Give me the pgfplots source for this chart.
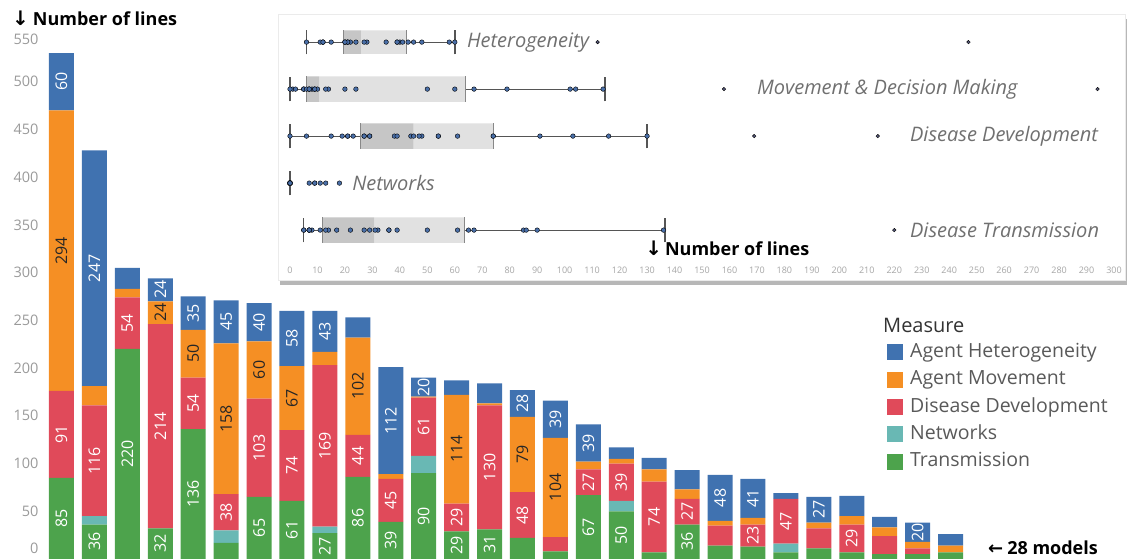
\documentclass[border=0pt]{standalone}
\usepackage{pgfplots}
\pgfplotsset{compat=1.18}
\usepackage{pgfplotstable}
\usepackage{fontspec}
\setmainfont{Open Sans}
\newfontfamily\dejavu{DejaVu Sans}
\usetikzlibrary{shadows}

\definecolor{cHet}{HTML}{4072B0}
\definecolor{cMov}{HTML}{F58F24}
\definecolor{cDis}{HTML}{E04A5A}
\definecolor{cNet}{HTML}{69B8B4}
\definecolor{cTra}{HTML}{4DA34C}
\definecolor{tickgray}{HTML}{9A9A9A}
\definecolor{legtxt}{HTML}{595959}
\definecolor{labgray}{HTML}{707070}
\definecolor{dotblue}{HTML}{4A6FA8}
\definecolor{outdot}{HTML}{55587A}
\definecolor{whisk}{HTML}{555555}
\definecolor{boxdark}{HTML}{B8B8B8}
\definecolor{boxlight}{HTML}{DADADA}

% idx: model; tra/net/dis/mov/het: number of lines per measure; *l: printed label
\pgfplotstableread{
idx tra tl  net nl dis dl  mov ml  het hl
0   85  85  0   {} 91  91  294 294 60  60
1   36  36  9   {} 116 116 20  {}  247 247
2   220 220 0   {} 54  54  9   {}  22  {}
3   32  32  0   {} 214 214 24  24  24  24
4   136 136 0   {} 54  54  50  50  35  35
5   17  {}  13  {} 38  38  158 158 45  45
6   65  65  0   {} 103 103 60  60  40  40
7   61  61  0   {} 74  74  67  67  58  58
8   27  27  7   {} 169 169 14  {}  43  43
9   86  86  0   {} 44  44  102 102 21  {}
10  39  39  0   {} 45  45  5   {}  112 112
11  90  90  18  {} 61  61  1   {}  20  20
12  29  29  0   {} 29  29  114 114 15  {}
13  31  31  0   {} 130 130 2   {}  21  {}
14  22  {}  0   {} 48  48  79  79  28  28
15  8   {}  0   {} 15  {}  104 104 39  39
16  67  67  0   {} 27  27  8   {}  39  39
17  50  50  11  {} 39  39  5   {}  12  {}
18  7   {}  0   {} 74  74  13  {}  12  {}
19  36  36  0   {} 27  27  10  {}  20  {}
20  14  {}  0   {} 21  {}  5   {}  48  48
21  13  {}  0   {} 23  23  7   {}  41  41
22  7   {}  9   {} 47  47  0   {}  6   {}
23  11  {}  0   {} 21  {}  6   {}  27  27
24  7   {}  0   {} 29  29  9   {}  21  {}
25  5   {}  0   {} 19  {}  9   {}  11  {}
26  5   {}  0   {} 6   {}  7   {}  20  20
27  7   {}  0   {} 0   {}  7   {}  12  {}
}\models

\begin{document}
\begin{tikzpicture}
\useasboundingbox (0pt,0pt) rectangle (1133pt,559pt);

\pgfplotsset{mainframe/.style={
  at={(45pt,0pt)}, anchor=south west,
  scale only axis, width=922pt, height=525pt,
  xmin=-0.5, xmax=27.5, ymin=0, ymax=550,
  enlargelimits=false, clip=false}}

% ---------------- main stacked bar chart ----------------
\begin{axis}[
  mainframe,
  ybar stacked, bar width=25pt,
  axis line style={draw=none},
  major tick length=0pt,
  xtick=\empty,
  ytick={50,100,...,500},
  /pgf/number format/assume math mode=true,
  yticklabel style={font=\fontsize{14.5}{14.5}\selectfont, text=tickgray, xshift=-3pt},
  reverse legend,
  legend image code/.code={\fill[#1] (0pt,-8pt) rectangle (16pt,8pt);},
  legend cell align=left,
  legend style={at={(0.9132,0.411)}, anchor=north west, draw=none, fill=none, inner sep=0pt,
     font=\fontsize{19.5}{19.5}\selectfont, text=legtxt, row sep=9.3pt,
     nodes={inner sep=0pt, text height=14pt, text depth=4pt},
     /tikz/every odd column/.append style={column sep=7pt}},
]
\addplot[fill=cTra, draw=none] table[x=idx, y=tra] {\models};
\addlegendentry{Transmission}
\addplot[fill=cNet, draw=none] table[x=idx, y=net] {\models};
\addlegendentry{Networks}
\addplot[fill=cDis, draw=none] table[x=idx, y=dis] {\models};
\addlegendentry{Disease Development}
\addplot[fill=cMov, draw=none] table[x=idx, y=mov] {\models};
\addlegendentry{Agent Movement}
\addplot[fill=cHet, draw=none] table[x=idx, y=het] {\models};
\addlegendentry{Agent Heterogeneity}

\node[anchor=east, font=\fontsize{14.5}{14.5}\selectfont, text=tickgray, xshift=-3pt, yshift=11pt]
  at (axis cs:-0.5,0) {0};
\node[anchor=east, font=\fontsize{14.5}{14.5}\selectfont, text=tickgray, xshift=-3pt, yshift=-5pt]
  at (axis cs:-0.5,550) {550};
\end{axis}

% ---------------- segment labels (centred in each segment) ----------------
\begin{axis}[
  mainframe, hide axis,
  nodes near coords,
  point meta=explicit symbolic,
  every node near coord/.style={rotate=90, anchor=center, inner sep=0pt,
     font=\fontsize{16}{16}\selectfont},
]
\addplot[draw=none, mark=none, every node near coord/.append style={text=white}]
  table[x=idx, y expr=\thisrow{tra}/2, meta=tl] {\models};
\addplot[draw=none, mark=none, every node near coord/.append style={text=white}]
  table[x=idx, y expr=\thisrow{tra}+\thisrow{net}+\thisrow{dis}/2, meta=dl] {\models};
\addplot[draw=none, mark=none, every node near coord/.append style={text=black!85}]
  table[x=idx, y expr=\thisrow{tra}+\thisrow{net}+\thisrow{dis}+\thisrow{mov}/2, meta=ml] {\models};
\addplot[draw=none, mark=none, every node near coord/.append style={text=white}]
  table[x=idx, y expr=\thisrow{tra}+\thisrow{net}+\thisrow{dis}+\thisrow{mov}+\thisrow{het}/2, meta=hl] {\models};
\end{axis}

\node[anchor=west, font=\fontsize{20}{20}\selectfont, text=black!80, inner sep=0pt] at (883pt,234pt) {Measure};
\node[anchor=west, font=\bfseries\fontsize{18}{18}\selectfont, inner sep=0pt] at (12pt,541pt)
  {{\dejavu\bfseries\fontsize{20}{20}\selectfont ↓}\hspace{4pt}Number of lines};
\node[anchor=west, font=\bfseries\fontsize{18}{18}\selectfont, inner sep=0pt] at (988pt,11pt)
  {{\dejavu\bfseries\fontsize{18}{18}\selectfont ←}\hspace{4pt}28 models};

% ---------------- inset box plot panel ----------------
\fill[white, draw=black!8, drop shadow={shadow xshift=2pt, shadow yshift=-5pt, opacity=0.4, fill=black!70}]
  (278pt,279pt) rectangle (1125pt,545pt);

\begin{axis}[
  at={(290pt,296pt)}, anchor=south west,
  scale only axis, width=824pt, height=244.4pt,
  xmin=0, xmax=300, ymin=0.3, ymax=5.5,
  enlargelimits=false, clip=false,
  axis line style={draw=none},
  major tick length=0pt,
  ytick=\empty,
  xtick={0,10,...,300},
  /pgf/number format/assume math mode=true,
  xticklabel style={font=\fontsize{9}{9}\selectfont, text=black!35},
]
% whiskers
\addplot[whisk, line width=0.8pt] coordinates {(6,5) (19.3,5)};
\addplot[whisk, line width=0.8pt] coordinates {(42.2,5) (60,5)};
\addplot[whisk, line width=0.8pt] coordinates {(0,4) (6,4)};
\addplot[whisk, line width=0.8pt] coordinates {(63.7,4) (114.7,4)};
\addplot[whisk, line width=0.8pt] coordinates {(0,3) (25.5,3)};
\addplot[whisk, line width=0.8pt] coordinates {(74,3) (130,3)};
\addplot[whisk, line width=0.8pt] coordinates {(5,1) (11.7,1)};
\addplot[whisk, line width=0.8pt] coordinates {(63.4,1) (136.5,1)};
% caps
\addplot[whisk, line width=1.4pt] coordinates {(6,4.74) (6,5.26)};
\addplot[whisk, line width=1.4pt] coordinates {(60,4.74) (60,5.26)};
\addplot[whisk, line width=1.4pt] coordinates {(0,3.74) (0,4.26)};
\addplot[whisk, line width=1.4pt] coordinates {(114.7,3.74) (114.7,4.26)};
\addplot[whisk, line width=1.4pt] coordinates {(0,2.74) (0,3.26)};
\addplot[whisk, line width=1.4pt] coordinates {(130,2.74) (130,3.26)};
\addplot[whisk, line width=1.4pt] coordinates {(0,1.74) (0,2.26)};
\addplot[whisk, line width=1.4pt] coordinates {(5,0.74) (5,1.26)};
\addplot[whisk, line width=1.4pt] coordinates {(136.5,0.74) (136.5,1.26)};
% points (within whiskers)
\addplot[only marks, mark=*, mark size=2.3pt, mark options={fill=dotblue, draw=none}, restrict x to domain=0:61]
  table[x=het, y expr=5] {\models};
\addplot[only marks, mark=*, mark size=2.3pt, mark options={fill=dotblue, draw=none}, restrict x to domain=0:115]
  table[x=mov, y expr=4] {\models};
\addplot[only marks, mark=*, mark size=2.3pt, mark options={fill=dotblue, draw=none}, restrict x to domain=0:131]
  table[x=dis, y expr=3] {\models};
\addplot[only marks, mark=*, mark size=2.3pt, mark options={fill=dotblue, draw=none}]
  table[x=net, y expr=2] {\models};
\addplot[only marks, mark=*, mark size=2.3pt, mark options={fill=dotblue, draw=none}, restrict x to domain=0:137]
  table[x=tra, y expr=1] {\models};
% outliers
\addplot[only marks, mark=*, mark size=1.8pt, mark options={fill=outdot, draw=none}, restrict x to domain=61:400]
  table[x=het, y expr=5] {\models};
\addplot[only marks, mark=*, mark size=1.8pt, mark options={fill=outdot, draw=none}, restrict x to domain=115:400]
  table[x=mov, y expr=4] {\models};
\addplot[only marks, mark=*, mark size=1.8pt, mark options={fill=outdot, draw=none}, restrict x to domain=131:400]
  table[x=dis, y expr=3] {\models};
\addplot[only marks, mark=*, mark size=1.8pt, mark options={fill=outdot, draw=none}, restrict x to domain=137:400]
  table[x=tra, y expr=1] {\models};
% boxes: lower part (q1 to median) darker, upper part (median to q3) lighter
\addplot[fill=boxdark, draw=none, fill opacity=0.8] coordinates {(19.3,4.75) (26,4.75) (26,5.25) (19.3,5.25) (19.3,4.75)};
\addplot[fill=boxlight, draw=none, fill opacity=0.8] coordinates {(26,4.75) (42.2,4.75) (42.2,5.25) (26,5.25) (26,4.75)};
\addplot[fill=boxdark, draw=none, fill opacity=0.8] coordinates {(6,3.73) (10.6,3.73) (10.6,4.27) (6,4.27) (6,3.73)};
\addplot[fill=boxlight, draw=none, fill opacity=0.8] coordinates {(10.6,3.73) (63.7,3.73) (63.7,4.27) (10.6,4.27) (10.6,3.73)};
\addplot[fill=boxdark, draw=none, fill opacity=0.8] coordinates {(25.5,2.73) (45,2.73) (45,3.27) (25.5,3.27) (25.5,2.73)};
\addplot[fill=boxlight, draw=none, fill opacity=0.8] coordinates {(45,2.73) (74,2.73) (74,3.27) (45,3.27) (45,2.73)};
\addplot[fill=boxdark, draw=none, fill opacity=0.8] coordinates {(11.7,0.73) (30.6,0.73) (30.6,1.27) (11.7,1.27) (11.7,0.73)};
\addplot[fill=boxlight, draw=none, fill opacity=0.8] coordinates {(30.6,0.73) (63.4,0.73) (63.4,1.27) (30.6,1.27) (30.6,0.73)};
% box edge lines
\addplot[whisk!70, line width=0.6pt] coordinates {(19.3,4.75) (19.3,5.25)};
\addplot[whisk!70, line width=0.6pt] coordinates {(42.2,4.75) (42.2,5.25)};
\addplot[whisk!70, line width=0.6pt] coordinates {(6,3.73) (6,4.27)};
\addplot[whisk!70, line width=0.6pt] coordinates {(63.7,3.73) (63.7,4.27)};
\addplot[whisk!70, line width=0.6pt] coordinates {(25.5,2.73) (25.5,3.27)};
\addplot[whisk!70, line width=0.6pt] coordinates {(74,2.73) (74,3.27)};
\addplot[whisk!70, line width=0.6pt] coordinates {(11.7,0.73) (11.7,1.27)};
\addplot[whisk!70, line width=0.6pt] coordinates {(63.4,0.73) (63.4,1.27)};

\tikzset{rowlab/.style={anchor=west, inner sep=0pt, text=labgray, font=\itshape\fontsize{20}{20}\selectfont}}
\node[rowlab] at (axis cs:64.4,5) {Heterogeneity};
\node[rowlab] at (axis cs:170,4) {Movement \& Decision Making};
\node[rowlab] at (axis cs:225.7,3) {Disease Development};
\node[rowlab] at (axis cs:22.6,2) {Networks};
\node[rowlab] at (axis cs:225.7,1) {Disease Transmission};
\node[anchor=west, inner sep=0pt, font=\bfseries\fontsize{18}{18}\selectfont] at (axis cs:129.3,0.62)
  {{\dejavu\bfseries\fontsize{20}{20}\selectfont ↓}\hspace{3pt}Number of lines};
\end{axis}
\end{tikzpicture}
\end{document}
